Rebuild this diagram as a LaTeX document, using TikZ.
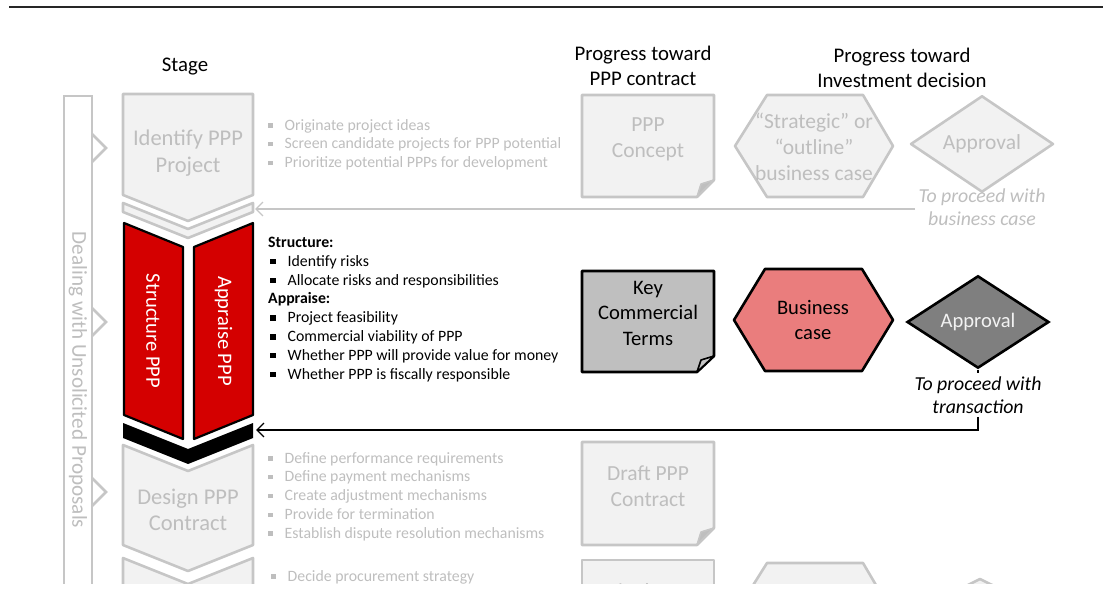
\documentclass[tikz,border=0pt]{standalone}
\usepackage{fontspec}
\setmainfont{Carlito}
\usetikzlibrary{arrows.meta,shapes.geometric}

\definecolor{lightline}{RGB}{198,198,198}
\definecolor{lightfill}{RGB}{242,242,242}
\definecolor{lighttext}{RGB}{190,190,190}
\definecolor{pppred}{RGB}{212,0,0}
\definecolor{casered}{RGB}{234,125,125}
\definecolor{termsgray}{RGB}{191,191,191}
\definecolor{approvalgray}{RGB}{127,127,127}

\newcommand{\gbul}{\rule[2.5pt]{4.5pt}{4.5pt}\hspace*{12pt}}
\newcommand{\bbul}{\hspace*{2pt}\rule[2pt]{5.5pt}{5.5pt}\hspace*{12pt}}

\begin{document}
\begin{tikzpicture}[x=1pt,y=-1pt,
    faded/.style={draw=lightline,fill=lightfill,line width=2.6pt,line join=round},
    redpart/.style={draw=black,fill=pppred,line width=2.2pt,line join=round},
    fadedtext/.style={text=lighttext,align=center,font=\fontsize{22.5}{27.5}\selectfont},
    heading/.style={align=center,font=\fontsize{20.8}{25}\selectfont},
    shapetext/.style={align=center,font=\fontsize{20.6}{25.5}\selectfont},
    bullets/.style={align=left,anchor=north west,inner sep=0pt,font=\fontsize{15.8}{18.8}\selectfont},
    note/.style={align=center,font=\itshape\fontsize{19.8}{23}\selectfont},
    barb/.style={-{Straight Barb[length=7pt,width=14pt,line width=1.3pt]},line width=1.4pt}]
    \useasboundingbox (0,0) rectangle (1103,601);

    % Rule and headings
    \draw[line width=2.6pt,color=black!85] (9,7) -- (1103,7);
    \node[heading] (stagehead) at (185,67) {Stage};
    \node[heading] (contracthead) at (643,66) {Progress toward\\PPP contract};
    \node[heading] (decisionhead) at (902,68) {Progress toward\\Investment decision};

    \begin{scope}
    \clip (0,0) rectangle (1103,583);

    % Unsolicited proposals bar
    \draw[draw=lightline,fill=white,line width=2.6pt] (64,96) rectangle (92,620);
    \foreach \ypos in {148, 322, 492}
    {
      \draw[draw=lightline,line width=2.6pt] (92,\ypos-14) -- (106,\ypos) -- (92,\ypos+14);
    };
    \node[rotate=-90,text=lighttext,font=\fontsize{21.2}{25}\selectfont] (unsolicited) at (78,380) {Dealing with Unsolicited Proposals};

    % Stages
    \draw[faded] (123,94) -- (253,94) -- (253,195) -- (188,221) -- (123,195) -- cycle;
    \node[fadedtext] (identify) at (188,153) {Identify PPP\\Project};
    \draw[faded] (123,203) -- (188,229) -- (253,203) -- (253,212) -- (188,238) -- (123,212) -- cycle;
    \draw[redpart] (124,223) -- (183,247) -- (183,439) -- (124,415) -- cycle;
    \draw[redpart] (194,247) -- (253,223) -- (253,415) -- (194,439) -- cycle;
    \node[rotate=-90,text=white,shapetext] (structure) at (153,331) {Structure PPP};
    \node[rotate=-90,text=white,shapetext] (appraise) at (223.5,331) {Appraise PPP};
    \fill[black] (123,423) -- (188,449) -- (253,423) -- (253,438) -- (188,464) -- (123,438) -- cycle;
    \draw[faded] (123,445) -- (188,471) -- (253,445) -- (253,545) -- (188,571) -- (123,545) -- cycle;
    \node[fadedtext,font=\fontsize{22.5}{25.5}\selectfont] (design) at (188,510) {Design PPP\\Contract};
    \draw[faded] (123,558) -- (188,584) -- (253,558) -- (253,660) -- (123,660) -- cycle;

    % Stage tasks
    \node[bullets,text=lighttext] (identifylist) at (268,119)
      {\gbul Originate project ideas\\ \gbul Screen candidate projects for PPP potential\\ \gbul Prioritize potential PPPs for development};
    \node[bullets] (structurelist) at (268,237)
      {\textbf{Structure:}\\ \bbul Identify risks\\ \bbul Allocate risks and responsibilities\\
       \textbf{Appraise:}\\ \bbul Project feasibility\\ \bbul Commercial viability of PPP\\
       \bbul Whether PPP will provide value for money\\ \bbul Whether PPP is fiscally responsible};
    \node[bullets,text=lighttext] (designlist) at (268,452)
      {\gbul Define performance requirements\\ \gbul Define payment mechanisms\\ \gbul Create adjustment mechanisms\\
       \gbul Provide for termination\\ \gbul Establish dispute resolution mechanisms};
    \node[bullets,text=lighttext] (procurelist) at (271,570) {\gbul Decide procurement strategy};

    % PPP contract column
    \draw[faded] (582,95) -- (714,95) -- (714,180) -- (697,197) -- (582,197) -- cycle;
    \draw[draw=lightline,fill=termsgray,line width=1.6pt,line join=round] (714,180) -- (701,184) -- (697,197) -- cycle;
    \node[fadedtext,font=\fontsize{21.5}{26}\selectfont] (concept) at (648,139) {PPP\\Concept};
    \draw[line width=2.6pt,fill=termsgray,line join=round] (582,271) -- (714,271) -- (714,356) -- (697,372) -- (582,372) -- cycle;
    \draw[line width=1.6pt,fill=lightline,line join=round] (714,356) -- (701,360) -- (697,372) -- cycle;
    \node[shapetext] (keyterms) at (648,313) {Key\\Commercial\\Terms};
    \draw[faded] (582,442) -- (714,442) -- (714,528) -- (697,545) -- (582,545) -- cycle;
    \draw[draw=lightline,fill=termsgray,line width=1.6pt,line join=round] (714,528) -- (701,532) -- (697,545) -- cycle;
    \node[fadedtext,font=\fontsize{21.5}{26}\selectfont] (draftcontract) at (648,486) {Draft PPP\\Contract};
    \draw[faded] (582,560) -- (714,560) -- (714,660) -- (582,660) -- cycle;
    \node[fadedtext,font=\fontsize{21.5}{26}\selectfont] (finalcontract) at (648,591) {Final PPP};

    % Investment decision column
    \draw[faded] (767,95) -- (863,95) -- (893,146) -- (863,197) -- (767,197) -- (735,146) -- cycle;
    \node[fadedtext,font=\fontsize{21.5}{26}\selectfont] (outlinecase) at (814,147) {“Strategic” or\\“outline”\\business case};
    \node[faded,diamond,minimum width=143pt,minimum height=71pt,inner sep=0pt,text=lighttext,font=\fontsize{21.5}{26}\selectfont] (approvalone) at (982,144) {Approval};
    \node[note,text=lighttext] (businessgo) at (982,207) {To proceed with\\business case};
    \draw[line width=2.6pt,fill=casered,line join=round] (765,269) -- (862,269) -- (893,320) -- (862,371) -- (765,371) -- (734,320) -- cycle;
    \node[shapetext] (businesscase) at (813,320) {Business\\case};
    \node[diamond,draw,line width=2.6pt,fill=approvalgray,text=lightfill,minimum width=142pt,minimum height=71pt,inner sep=0pt,shapetext] (approvaltwo) at (978,322) {Approval};
    \node[note] (transactiongo) at (978,395) {To proceed with\\transaction};
    \draw[faded] (767,563) -- (863,563) -- (893,614) -- (863,665) -- (767,665) -- (735,614) -- cycle;
    \node[faded,diamond,minimum width=143pt,minimum height=71pt,inner sep=0pt] (approvalthree) at (980,614) {};

    % Feedback arrows
    \coordinate (identifyin) at (255,209);
    \coordinate (designin) at (256,430);
    \draw[barb,draw=lightline] (businessgo.west |- identifyin) -- (identifyin);
    \draw[line width=1.4pt] (approvaltwo.south) -- (transactiongo.north);
    \draw[barb] (transactiongo.south) |- (designin);
    \end{scope}

\end{tikzpicture}
\end{document}
